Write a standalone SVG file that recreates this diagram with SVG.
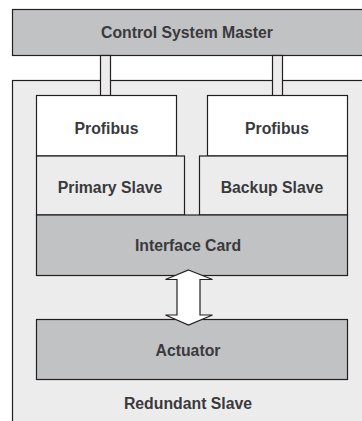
<svg xmlns="http://www.w3.org/2000/svg" width="362" height="421" viewBox="0 0 362 421">
<style>
.box{stroke:#231f20;stroke-width:1.2}
.dark{fill:#c1c2c4}
.light{fill:#ececed}
.white{fill:#ffffff}
.lbl{font-family:"Liberation Sans",Arial,sans-serif;font-weight:bold;font-size:15.8px;fill:#3a3a3c;text-anchor:middle}
</style>
<rect width="362" height="421" fill="#ffffff"/>
<g id="master">
<rect class="box dark" x="12.5" y="9.5" width="360" height="46"/>
<text class="lbl" x="187" y="38">Control System Master</text>
</g>
<g id="redundant-slave">
<rect class="box light" x="12.5" y="80.5" width="360" height="350"/>
<text class="lbl" x="188" y="408.5">Redundant Slave</text>
</g>
<g id="connectors">
<rect class="box light" x="100.5" y="55.5" width="10" height="41"/>
<rect class="box light" x="272.5" y="55.5" width="10" height="41"/>
</g>
<g id="profibus-left">
<rect class="box white" x="36.5" y="95.5" width="140" height="60.5"/>
<text class="lbl" x="106.5" y="133.5">Profibus</text>
</g>
<g id="profibus-right">
<rect class="box white" x="207.5" y="95.5" width="140" height="60.5"/>
<text class="lbl" x="277" y="133.5">Profibus</text>
</g>
<g id="primary-slave">
<rect class="box light" x="36.5" y="156" width="148" height="59"/>
<text class="lbl" x="110" y="192.5">Primary Slave</text>
</g>
<g id="backup-slave">
<rect class="box light" x="199.5" y="156" width="148" height="59"/>
<text class="lbl" x="272" y="192.5">Backup Slave</text>
</g>
<g id="interface-card">
<rect class="box dark" x="36.5" y="215" width="311" height="60.5"/>
<text class="lbl" x="188" y="251">Interface Card</text>
</g>
<g id="actuator">
<rect class="box dark" x="36.5" y="319.5" width="311" height="60"/>
<text class="lbl" x="188" y="355.5">Actuator</text>
</g>
<g id="arrow-connector">
<polygon class="box white" points="188.5,270 212.5,279.5 200,279.5 200,315 212.5,315 188.5,325 165.5,315 177,315 177,279.5 165.5,279.5"/>
</g>
</svg>
